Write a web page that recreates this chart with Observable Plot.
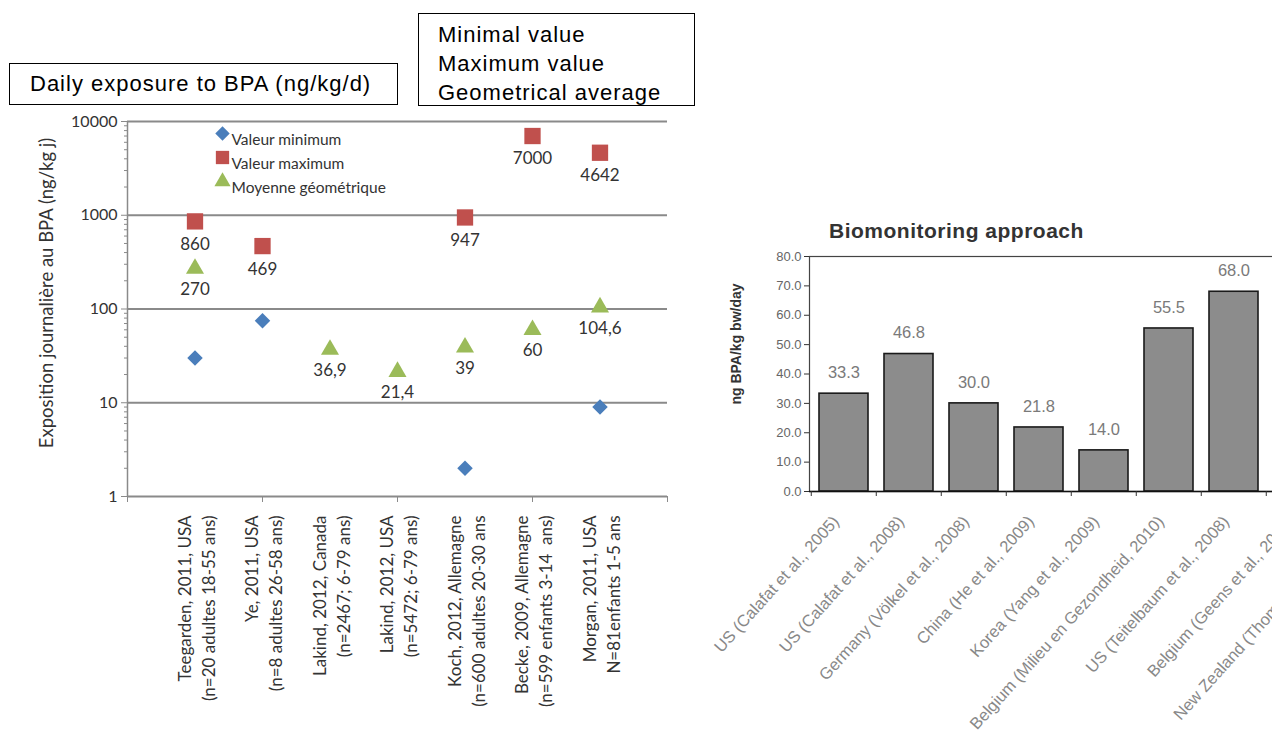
<!DOCTYPE html>
<html>
<head>
<meta charset="utf-8">
<script src="https://cdn.jsdelivr.net/npm/d3@7"></script>
<script src="https://cdn.jsdelivr.net/npm/@observablehq/plot@0.6"></script>
<style>
  html, body { margin: 0; padding: 0; background: #fff; overflow: hidden; }
  #page { position: relative; width: 1272px; height: 747px; overflow: hidden; background: #fff; }
  #page svg { max-width: none !important; }
  #left, #right { position: absolute; }
  .box { position: absolute; box-sizing: border-box; border: 1.5px solid #000; background: #fff;
         font-family: "Liberation Sans", Arial, sans-serif; color: #000; white-space: nowrap; }
  #bioTitle { position: absolute; font: bold 21px "Liberation Sans", Arial, sans-serif; color: #333;
              white-space: nowrap; letter-spacing: 0.5px; }
</style>
</head>
<body>
<div id="page">
  <div id="left" style="left:0px; top:100px;"></div>
  <div id="right" style="left:690px; top:200px;"></div>
  <div id="bioTitle" style="left:829px; top:219px;">Biomonitoring approach</div>
  <div class="box" style="left:9px; top:63px; width:389px; height:42px; font-size:22px; letter-spacing:1px; padding:7px 0 0 20px;">Daily exposure to BPA (ng/kg/d)</div>
  <div class="box" style="left:418px; top:13px; width:277px; height:93px; font-size:22px; letter-spacing:1px; line-height:29px; padding:6px 0 0 19px;">Minimal value<br>Maximum value<br>Geometrical average</div>
</div>
<script>
// ---- Daily exposure studies (log scale scatter) ----
const studyNames = [
  "Teegarden, 2011, USA",
  "Ye, 2011, USA",
  "Lakind, 2012, Canada",
  "Lakind, 2012, USA",
  "Koch, 2012, Allemagne",
  "Becke, 2009, Allemagne",
  "Morgan, 2011, USA"
];
const studyCohorts = [
  "(n=20 adultes 18-55 ans)",
  "(n=8 adultes 26-58 ans)",
  "(n=2467; 6-79 ans)",
  "(n=5472; 6-79 ans)",
  "(n=600 adultes 20-30 ans",
  "(n=599 enfants 3-14  ans)",
  "N=81enfants 1-5 ans"
];
const minValues = [30, 75, null, null, 2, null, 9];
const maxValues = [860, 469, null, null, 947, 7000, 4642];
const geoMeans  = [270, null, 36.9, 21.4, 39, 60, 104.6];
const seriesNames = ["Valeur minimum", "Valeur maximum", "Moyenne géométrique"];
const yMajorTicks = [1, 10, 100, 1000, 10000];

// ---- Biomonitoring approach (bar chart) ----
const bioStudies = [
  "US (Calafat et al., 2005)",
  "US (Calafat et al., 2008)",
  "Germany (Völkel et al., 2008)",
  "China (He et al., 2009)",
  "Korea (Yang et al., 2009)",
  "Belgium (Milieu en Gezondheid, 2010)",
  "US (Teitelbaum et al., 2008)",
  "Belgium (Geens et al., 2012)",
  "New Zealand (Thomson et al., 2003)"
];
const bioValues = [33.3, 46.8, 30.0, 21.8, 14.0, 55.5, 68.0];
const bioTicks = [0, 10, 20, 30, 40, 50, 60, 70, 80];

// ---- styles ----
const BLUE = "#4a7ebb", RED = "#c0504d", GREEN = "#9bbb59";
const AXIS = "#8a8a8a";
const SANS = "Lato, 'Open Sans', 'Noto Sans', sans-serif";
const frenchNumber = v => String(v).replace(".", ",");

const toRows = values => values
  .map((value, i) => ({pos: i + 1, value}))
  .filter(d => d.value != null);
const minRows = toRows(minValues);
const maxRows = toRows(maxValues);
const geoRows = toRows(geoMeans);
const studyRows = studyNames.map((name, i) => ({pos: i + 1, name, cohort: studyCohorts[i]}));

const minorTicks = [];
for (let k = 0; k < 4; k++) for (let m = 2; m <= 9; m++) minorTicks.push(m * 10 ** k);

const legendItems = [
  {label: seriesNames[0], symbol: "diamond2", fill: BLUE, r: 6.5},
  {label: seriesNames[1], symbol: "square", fill: RED, r: 7.5},
  {label: seriesNames[2], symbol: "triangle", fill: GREEN, r: 6}
];
const legendMarks = legendItems.flatMap((item, i) => [
  Plot.dot([item], {frameAnchor: "top-left", dx: 95, dy: 12 + 24 * i, symbol: item.symbol, fill: item.fill, r: item.r}),
  Plot.text([item], {frameAnchor: "top-left", dx: 104, dy: 12 + 24 * i, text: "label", textAnchor: "start", fontSize: 15.5, fill: "#333"})
]);

const left = Plot.plot({
  width: 690, height: 647,
  marginLeft: 127, marginRight: 23, marginTop: 21, marginBottom: 251,
  style: {fontFamily: SANS, color: "#333", background: "transparent", overflow: "visible"},
  x: {domain: [0, 8], label: null},
  y: {type: "log", domain: [1, 10000], label: null},
  marks: [
    Plot.ruleY([10, 100, 1000, 10000], {stroke: AXIS, strokeWidth: 2}),
    Plot.ruleX([0], {stroke: AXIS, strokeWidth: 1.5}),
    Plot.ruleY([1], {stroke: AXIS, strokeWidth: 2}),
    Plot.axisY({ticks: yMajorTicks, tickFormat: d => String(d), tickSize: 6, tickPadding: 4, fontSize: 16, stroke: AXIS, fill: "#333", label: null}),
    Plot.axisY({ticks: minorTicks, tickFormat: () => "", tickSize: 3, stroke: AXIS, label: null}),
    Plot.axisX({ticks: [0, 2, 4, 6, 8], tickFormat: () => "", tickSize: 6, stroke: AXIS, label: null}),
    Plot.text(studyRows, {
      x: "pos", frameAnchor: "bottom", text: d => d.name + "\n" + d.cohort,
      rotate: -90, textAnchor: "end", lineAnchor: "middle", lineHeight: 1.4,
      dy: 19, fontSize: 17, fill: "#333"
    }),
    Plot.text(["Exposition journalière au BPA (ng/kg j)"], {
      frameAnchor: "left", text: d => d, rotate: -90, textAnchor: "middle",
      dx: -80, dy: -16, fontSize: 18.5, fill: "#333"
    }),
    Plot.dot(minRows, {x: "pos", y: "value", symbol: "diamond2", fill: BLUE, r: 7}),
    Plot.dot(maxRows, {x: "pos", y: "value", symbol: "square", fill: RED, r: 9.2}),
    Plot.dot(geoRows, {x: "pos", y: "value", symbol: "triangle", fill: GREEN, r: 6.7}),
    Plot.text(maxRows, {x: "pos", y: "value", text: d => frenchNumber(d.value), dy: 23, fontSize: 17, fill: "#333"}),
    Plot.text(geoRows, {x: "pos", y: "value", text: d => frenchNumber(d.value), dy: 21, fontSize: 17, fill: "#333"}),
    ...legendMarks
  ]
});
document.getElementById("left").append(left);

// bar chart
const bioRows = bioValues.map((value, i) => ({study: bioStudies[i], value}));
const bioWidth = 718, bioLeft = 119, bioRight = 10;
const step = (bioWidth - bioLeft - bioRight) / bioStudies.length;
const NARROW = "'Liberation Sans Narrow', 'Liberation Sans', Arial, sans-serif";

const right = Plot.plot({
  width: bioWidth, height: 547,
  marginLeft: bioLeft, marginRight: bioRight, marginTop: 56, marginBottom: 256,
  style: {fontFamily: "'Liberation Sans', Arial, sans-serif", background: "transparent", overflow: "visible"},
  x: {domain: bioStudies, paddingInner: 0.25, paddingOuter: 0.125, axis: null, label: null},
  y: {domain: [0, 80], axis: null, label: null},
  marks: [
    Plot.frame({stroke: "#444", strokeWidth: 1.2}),
    Plot.barY(bioRows, {x: "study", y: "value", fill: "#8c8c8c", stroke: "#1a1a1a", strokeWidth: 1.6}),
    Plot.text(bioRows, {x: "study", y: "value", text: d => d.value.toFixed(1), dy: -21, fontSize: 16.5, fill: "#7a7a7a"}),
    Plot.ruleY([0], {stroke: "#111", strokeWidth: 1.5}),
    Plot.axisY({ticks: bioTicks, tickFormat: d => d.toFixed(1), tickSize: 5, tickPadding: 3, fontSize: 13, fontFamily: NARROW, stroke: "#333", fill: "#666", label: null}),
    Plot.ruleX(bioStudies, {x: d => d, dx: -step / 2, y1: 0, y2: 0, insetBottom: -5, stroke: "#333"}),
    Plot.text(bioStudies, {
      x: d => d, frameAnchor: "bottom", text: d => d, rotate: -48,
      textAnchor: "end", lineAnchor: "middle", dx: -8, dy: 27, fontSize: 16.5, fill: "#888"
    }),
    Plot.text(["ng BPA/kg bw/day"], {
      frameAnchor: "left", text: d => d, rotate: -90, textAnchor: "middle", dx: -73, dy: -30,
      fontSize: 14, fontWeight: "bold", fill: "#333"
    })
  ]
});
document.getElementById("right").append(right);
</script>
</body>
</html>
